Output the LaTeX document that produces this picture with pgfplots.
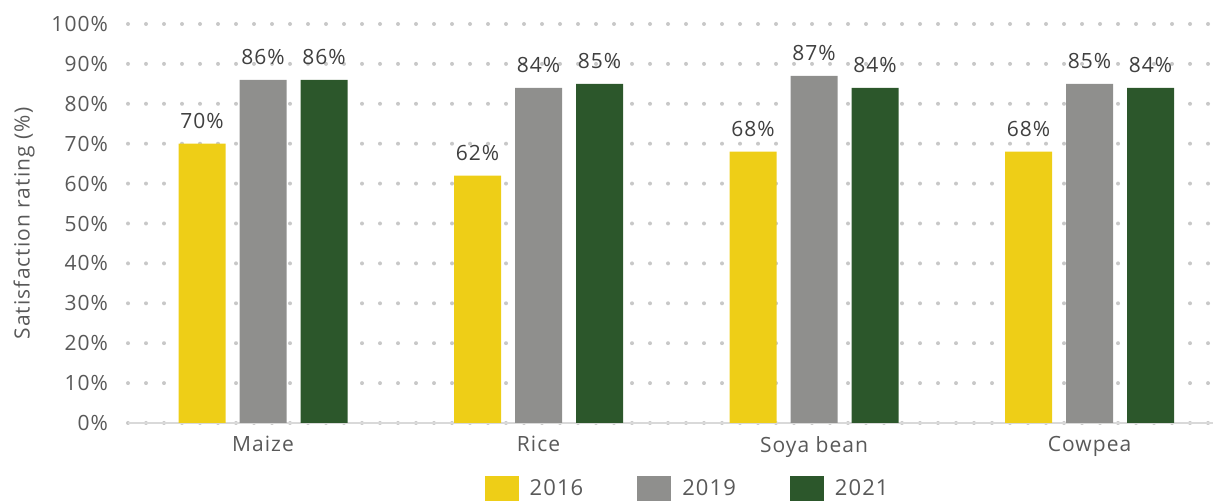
\documentclass[border=0pt]{standalone}
\usepackage{fontspec}
\setmainfont{Open Sans}[LetterSpace=5]
\usepackage{pgfplots}
\pgfplotsset{compat=1.18}
\definecolor{cY}{HTML}{EECE17}
\definecolor{cG}{HTML}{8F8F8D}
\definecolor{cD}{HTML}{2C572B}
\definecolor{txt}{HTML}{404040}
\definecolor{tick}{HTML}{595959}
\definecolor{dots}{HTML}{C8C8C8}
\definecolor{base}{HTML}{D9D9D9}
\begin{document}
\begin{tikzpicture}
\useasboundingbox (-64pt,-39pt) rectangle (542.5pt,211.5pt);
\begin{axis}[
  scale only axis,
  width=542.5pt, height=199.5pt,
  xmin=-0.49, xmax=3.448,
  ymin=0, ymax=100,
  ybar=7pt, bar width=23.5pt,
  xtick={0,1,2,3},
  xticklabels={Maize,Rice,Soya bean,Cowpea},
  ytick={0,10,...,100},
  yticklabel={\pgfmathprintnumber{\tick}\%},
  /pgf/number format/assume math mode=true,
  major tick length=0pt,
  axis x line*=bottom,
  axis y line*=left,
  x axis line style={base, line width=1pt},
  y axis line style={draw=none},
  ymajorgrids,
  major grid style={dots, line width=2pt, line cap=round, dash pattern=on 0pt off 9pt},
  tick label style={font=\fontsize{10.5pt}{12pt}\selectfont, text=tick},
  yticklabel style={xshift=-6.5pt},
  xticklabel style={yshift=-3pt},
  ylabel={Satisfaction rating (\%)},
  every axis y label/.style={at={(axis description cs:0,0.5)}, xshift=-52pt, rotate=90, anchor=center, font=\fontsize{10.5pt}{12pt}\selectfont, text=tick},
  nodes near coords={\pgfmathprintnumber{\pgfplotspointmeta}\%},
  every node near coord/.append style={font=\fontsize{10.5pt}{12pt}\selectfont, text=txt, yshift=4pt},
  legend columns=3,
  legend style={draw=none, fill=none, at={([yshift=-33pt,xshift=2pt]axis description cs:0.513,0)}, anchor=center,
    font=\fontsize{11pt}{12pt}\selectfont, text=tick,
    /tikz/every odd column/.append style={column sep=3.5pt},
    /tikz/every even column/.append style={column sep=25pt}},
  clip=false,
]
\addplot[fill=cY, draw=none, legend image code/.code={\fill[cY] (0pt,-6.5pt) rectangle (17pt,6.5pt);}] coordinates {(0,70) (1,62) (2,68) (3,68)};
\addplot[fill=cG, draw=none, legend image code/.code={\fill[cG] (0pt,-6.5pt) rectangle (17pt,6.5pt);}] coordinates {(0,86) (1,84) (2,87) (3,85)};
\addplot[fill=cD, draw=none, legend image code/.code={\fill[cD] (0pt,-6.5pt) rectangle (17pt,6.5pt);}] coordinates {(0,86) (1,85) (2,84) (3,84)};
\legend{2016,2019,2021}
\end{axis}
\end{tikzpicture}
\end{document}
